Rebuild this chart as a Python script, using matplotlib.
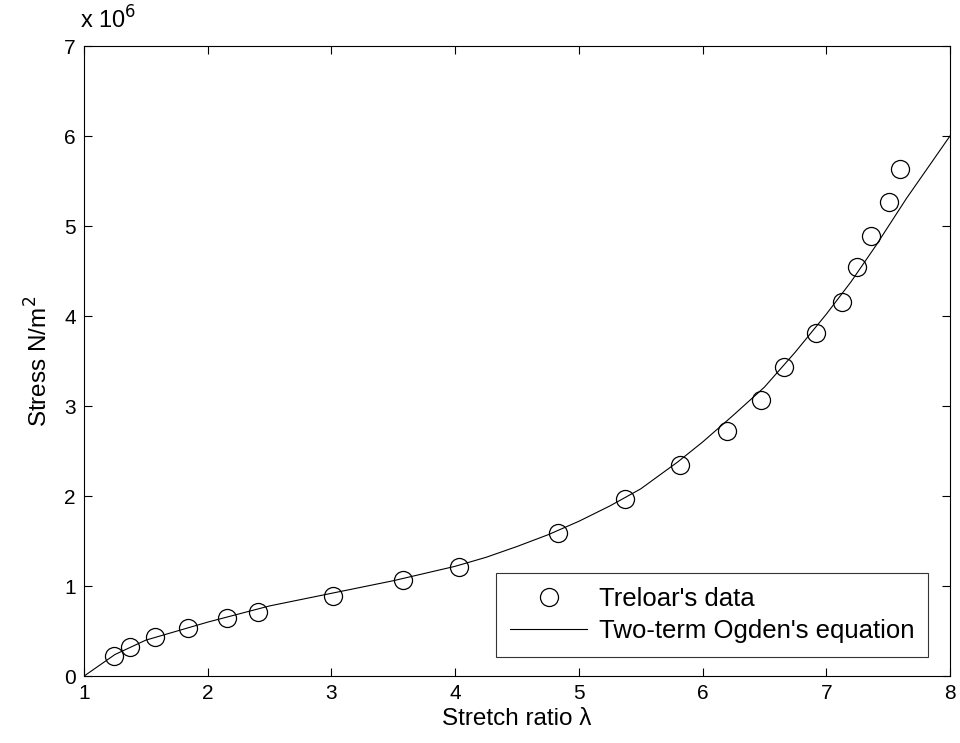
import matplotlib
matplotlib.use("Agg")
import matplotlib.pyplot as plt

plt.rcParams['font.family'] = ['Liberation Sans', 'DejaVu Sans']

# Treloar's data (stretch ratio, stress in 1e6 N/m^2)
treloar_x = [1.24, 1.37, 1.57, 1.84, 2.16, 2.41, 3.01, 3.58, 4.03, 4.83, 5.37,
             5.82, 6.20, 6.47, 6.66, 6.92, 7.13, 7.25, 7.36, 7.51, 7.60]
treloar_y = [0.22, 0.32, 0.43, 0.53, 0.65, 0.71, 0.89, 1.07, 1.21, 1.59, 1.97,
             2.35, 2.72, 3.07, 3.43, 3.81, 4.16, 4.54, 4.89, 5.27, 5.63]

# two-term Ogden fit
ogden_x = [1.0, 1.25, 1.5, 2.0, 2.5, 3.0, 3.5, 4.0, 4.25, 4.5, 4.75, 5.0, 5.25,
           5.5, 5.8, 6.0, 6.25, 6.5, 6.75, 7.0, 7.2, 7.4, 7.65, 8.0]
ogden_y = [0.0, 0.24, 0.40, 0.60, 0.78, 0.92, 1.06, 1.22, 1.32, 1.44, 1.57, 1.72,
           1.89, 2.08, 2.38, 2.60, 2.90, 3.21, 3.60, 4.02, 4.38, 4.78, 5.31, 6.0]

fig = plt.figure(figsize=(9.6, 7.43), dpi=100)
ax = fig.add_axes([0.0875, 0.090, 0.902, 0.848])

ax.plot(treloar_x, treloar_y, 'o', mfc='none', mec='black', ms=13, mew=0.9,
        label="Treloar's data")
ax.plot(ogden_x, ogden_y, '-', color='black', lw=0.8,
        label="Two-term Ogden's equation")

ax.set_xlim(1, 8)
ax.set_ylim(0, 7)
ax.set_xticks(range(1, 9))
ax.set_yticks(range(0, 8))
ax.tick_params(direction='in', top=True, right=True, labelsize=15, length=6, pad=6)
for s in ax.spines.values():
    s.set_linewidth(0.8)

ax.set_xlabel('Stretch ratio λ', fontsize=17.5, labelpad=3)
ax.set_ylabel('Stress N/m$^2$', fontsize=17.5, labelpad=8)
fig.text(0.083, 0.962, 'x 10$^6$', fontsize=17)

leg = ax.legend(loc='lower right', fontsize=18.5, frameon=True, fancybox=False,
                edgecolor='black', handlelength=3.0, handletextpad=0.45,
                borderpad=0.55, labelspacing=0.3, borderaxespad=0,
                bbox_to_anchor=(0.975, 0.03))
leg.get_frame().set_linewidth(0.8)

fig.savefig('out.png', dpi=100, facecolor='white')
